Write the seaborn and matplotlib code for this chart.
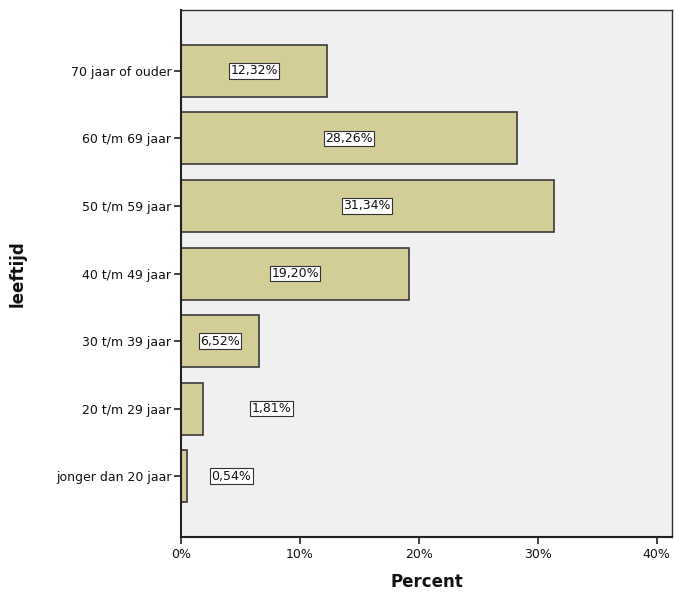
import matplotlib
matplotlib.use('Agg')
import matplotlib.pyplot as plt
import pandas as pd
import seaborn as sns


leeftijd = ['70 jaar of ouder', '60 t/m 69 jaar', '50 t/m 59 jaar', '40 t/m 49 jaar',
            '30 t/m 39 jaar', '20 t/m 29 jaar', 'jonger dan 20 jaar']
percent = [12.32, 28.26, 31.34, 19.20, 6.52, 1.81, 0.54]
labels = ['12,32%', '28,26%', '31,34%', '19,20%', '6,52%', '1,81%', '0,54%']

df = pd.DataFrame({'leeftijd': leeftijd, 'percent': percent})

sns.set_style('white')
plt.rcParams['font.family'] = ['DejaVu Sans']
plt.rcParams['text.color'] = '#111111'
plt.rcParams['axes.labelcolor'] = '#111111'
plt.rcParams['xtick.color'] = '#111111'
plt.rcParams['ytick.color'] = '#111111'

fig = plt.figure(figsize=(6.74, 5.94), dpi=100)
ax = fig.add_axes([0.2686, 0.096, 0.7284, 0.887])
ax.set_facecolor('#f0f0f0')

sns.barplot(df, x='percent', y='leeftijd', order=leeftijd, color='#d3ce97',
            edgecolor='#3a3a3a', linewidth=1.2, width=0.77, saturation=1, ax=ax)

# labels in het midden van de balk, kleine balken erbuiten
outside = {'1,81%': 7.6, '0,54%': 4.25}
for i, (v, lab) in enumerate(zip(percent, labels)):
    xpos = outside.get(lab, v / 2)
    ax.text(xpos, i, lab, ha='center', va='center', fontsize=9, color='#111111',
            bbox=dict(boxstyle='square,pad=0.1', facecolor='white', edgecolor='#333333', linewidth=0.8))

ax.set_xlim(0, 41.3)
ax.set_ylim(6.9, -0.9)
ax.set_xticks([0, 10, 20, 30, 40])
ax.set_xticklabels(['0%', '10%', '20%', '30%', '40%'])
ax.tick_params(axis='both', direction='out', length=5, width=1.2, color='#222222',
               labelsize=9, left=True, bottom=True)
ax.tick_params(axis='y', pad=2)
ax.tick_params(axis='x', pad=3)

for side in ['left', 'bottom']:
    ax.spines[side].set_color('#222222')
    ax.spines[side].set_linewidth(1.5)
for side in ['top', 'right']:
    ax.spines[side].set_visible(True)
    ax.spines[side].set_color('#333333')
    ax.spines[side].set_linewidth(1.0)

ax.set_xlabel('Percent', fontsize=12, fontweight='bold')
ax.set_ylabel('leeftijd', fontsize=12, fontweight='bold')
ax.yaxis.set_label_coords(-0.314, 0.5)
ax.xaxis.set_label_coords(0.5, -0.068)

fig.savefig('out.png', dpi=100)
